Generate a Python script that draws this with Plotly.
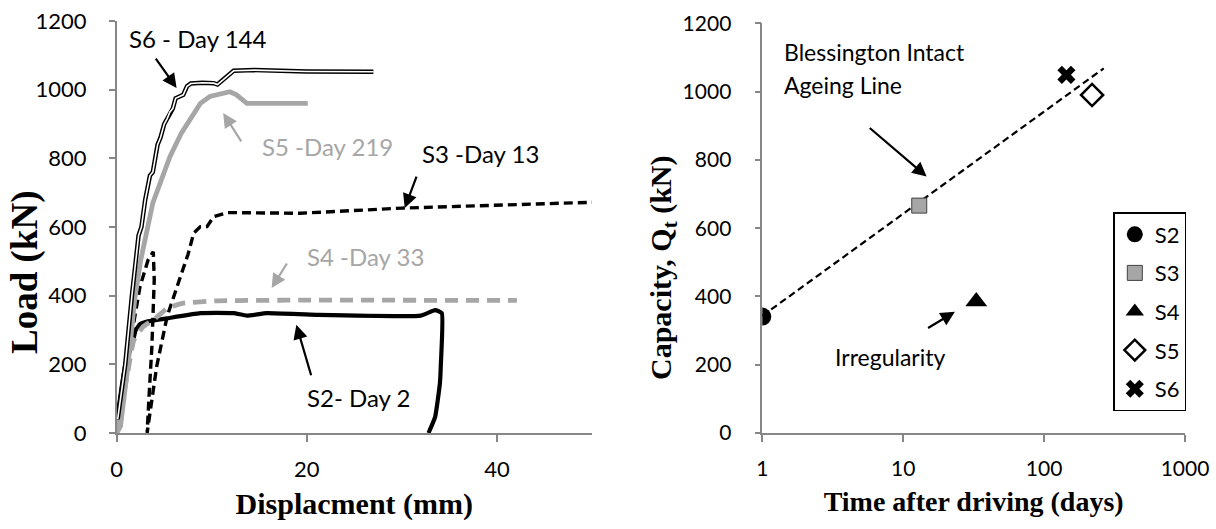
import plotly.graph_objects as go

# ---------------- Left chart data: Load vs displacement ----------------
s2_disp = [0, 0.5, 1.0, 1.6, 2.0, 2.5, 3.1, 5.3, 8.8, 12.3, 13.7, 15.8, 21, 32, 33.5, 34.2, 34.1, 34.0, 33.5, 32.8]
s2_load = [30, 130, 210, 255, 300, 318, 324, 334, 349, 349, 342, 349, 344, 342, 358, 349, 200, 145, 47, 0]

s3_disp = [0, 0.7, 1.6, 2.45, 3.3, 3.85, 3.95, 3.7, 3.4, 3.2, 4.2, 5.3, 6.7, 7.5, 8.1, 8.8, 9.5, 10.2, 11.6, 19.3, 30, 46.3, 50]
s3_load = [0, 106, 290, 426, 504, 528, 446, 251, 106, 0, 193, 339, 455, 520, 582, 601, 601, 630, 642, 640, 655, 669, 672]

s4_disp = [0, 0.5, 1.2, 1.8, 2.8, 3.9, 5.3, 7.0, 10.5, 20, 42.1]
s4_load = [0, 80, 183, 270, 310, 330, 363, 378, 385, 387, 386]

s5_disp = [0, 0.4, 1.2, 1.9, 2.5, 3.2, 3.8, 4.6, 5.6, 6.8, 7.7, 8.8, 9.8, 11.0, 11.9, 12.6, 13.7, 20.1]
s5_load = [0, 20, 200, 390, 500, 600, 670, 730, 805, 873, 912, 960, 980, 990, 994, 985, 960, 960]

s6_disp = [0.1, 0.9, 1.6, 2.3, 2.6, 3.0, 3.5, 3.8, 4.3, 4.6, 5.0, 5.3, 5.6, 5.9, 6.2, 6.6, 7.0, 7.4, 7.8, 9.0, 10.2, 10.6, 12.3, 14.5, 20, 27]
s6_load = [40, 200, 400, 575, 600, 680, 750, 760, 840, 860, 900, 915, 935, 945, 975, 980, 985, 1010, 1018, 1020, 1019, 1015, 1055, 1057, 1053, 1052]

# ---------------- Right chart data: capacity vs time ----------------
pile_names = ["S2", "S3", "S4", "S5", "S6"]
pile_days = [1, 13, 33, 219, 144]
pile_capacity = [341, 666, 385, 990, 1049]

ageing_days = [1, 265]
ageing_capacity = [343, 1068]

left_x_ticks = [0, 20, 40]
y_ticks = [0, 200, 400, 600, 800, 1000, 1200]
right_x_ticks = [1, 10, 100, 1000]

BLACK = "#000000"
GREY = "#a6a6a6"
AXIS = "#868686"
TICKFONT = "Lato"
TITLEFONT = "Liberation Serif"

fig = go.Figure()

# Left chart traces
fig.add_trace(go.Scatter(x=s3_disp, y=s3_load, mode="lines", showlegend=False,
                         line=dict(color=BLACK, width=3.4, dash="9px,5px"), xaxis="x", yaxis="y"))
fig.add_trace(go.Scatter(x=s2_disp, y=s2_load, mode="lines", showlegend=False,
                         line=dict(color=BLACK, width=4.2, shape="spline", smoothing=0.4), xaxis="x", yaxis="y"))
fig.add_trace(go.Scatter(x=s4_disp, y=s4_load, mode="lines", showlegend=False,
                         line=dict(color=GREY, width=4.8, dash="13px,8px", shape="spline", smoothing=0.4), xaxis="x", yaxis="y"))
fig.add_trace(go.Scatter(x=s5_disp, y=s5_load, mode="lines", showlegend=False,
                         line=dict(color=GREY, width=4.8), xaxis="x", yaxis="y"))
fig.add_trace(go.Scatter(x=s6_disp, y=s6_load, mode="lines", showlegend=False,
                         line=dict(color=BLACK, width=4.5), xaxis="x", yaxis="y"))
fig.add_trace(go.Scatter(x=s6_disp, y=s6_load, mode="lines", showlegend=False,
                         line=dict(color="#ffffff", width=1.6), xaxis="x", yaxis="y"))

# Right chart traces
fig.add_trace(go.Scatter(x=ageing_days, y=ageing_capacity, mode="lines", showlegend=False,
                         line=dict(color=BLACK, width=2.2, dash="7px,4px"), xaxis="x2", yaxis="y2"))

marker_styles = [
    dict(symbol="circle", size=18, color=BLACK),
    dict(symbol="square", size=15, color=GREY, line=dict(color="#404040", width=1)),
    dict(symbol="triangle-up", size=19, color=BLACK),
    dict(symbol="diamond", size=17, color="#ffffff", line=dict(color=BLACK, width=2.5)),
    dict(symbol="x", size=16, color=BLACK),
]
for name, d, q, ms in zip(pile_names, pile_days, pile_capacity, marker_styles):
    fig.add_trace(go.Scatter(x=[d], y=[q], mode="markers", name=name, marker=ms,
                             legendgroup=name, xaxis="x2", yaxis="y2"))

axis_common = dict(showgrid=False, zeroline=False, showline=True, linecolor=AXIS, linewidth=1.5,
                   ticks="outside", tickcolor=AXIS, tickwidth=1.5, mirror=False, automargin=False)

fig.update_layout(
    width=1216, height=529,
    margin=dict(l=0, r=0, t=0, b=0, autoexpand=False),
    paper_bgcolor="#ffffff", plot_bgcolor="#ffffff",
    xaxis=dict(domain=[116.7 / 1216, 592 / 1216], range=[0, 50], tickvals=left_x_ticks,
               ticklen=7, ticklabelstandoff=9, anchor="y",
               tickfont=dict(family=TICKFONT, size=22, color=BLACK),
               title=dict(text="<b>Displacment (mm)</b>", standoff=12,
                          font=dict(family=TITLEFONT, size=30, color=BLACK)),
               **axis_common),
    yaxis=dict(domain=[(529 - 433) / 529, (529 - 21) / 529], range=[0, 1200], tickvals=y_ticks,
               ticklen=6, ticklabelstandoff=18, anchor="x",
               tickfont=dict(family=TICKFONT, size=22, color=BLACK), **axis_common),
    xaxis2=dict(domain=[762.3 / 1216, 1185 / 1216], type="log", range=[0, 3], tickvals=right_x_ticks,
                ticktext=[str(v) for v in right_x_ticks],
                ticklen=7, ticklabelstandoff=9, anchor="y2",
                tickfont=dict(family=TICKFONT, size=21, color=BLACK),
                title=dict(text="<b>Time after driving (days)</b>", standoff=12,
                           font=dict(family=TITLEFONT, size=28, color=BLACK)),
                **axis_common),
    yaxis2=dict(domain=[(529 - 433) / 529, (529 - 23.3) / 529], range=[0, 1200], tickvals=y_ticks,
                ticklen=6, ticklabelstandoff=19, anchor="x2",
                tickfont=dict(family=TICKFONT, size=21, color=BLACK), **axis_common),
    legend=dict(x=1113.3 / 1216, y=(529 - 212) / 529, xanchor="left", yanchor="top",
                bordercolor=BLACK, borderwidth=1.5, bgcolor="#ffffff",
                font=dict(family=TICKFONT, size=22, color=BLACK),
                traceorder="grouped", tracegroupgap=7, itemwidth=30),
)

annotations = []
# Axis titles (y) placed to match the reference
annotations.append(dict(text="<b>Load (kN)</b>", xref="paper", yref="paper", x=25 / 1216, y=(529 - 273) / 529,
                        textangle=-90, showarrow=False, xanchor="center", yanchor="middle",
                        font=dict(family=TITLEFONT, size=37, color=BLACK)))
annotations.append(dict(text="<b>Capacity, Q<sub>t</sub> (kN)</b>", xref="paper", yref="paper", x=663 / 1216,
                        y=(529 - 268) / 529, textangle=-90, showarrow=False, xanchor="center", yanchor="middle",
                        font=dict(family=TITLEFONT, size=30, color=BLACK)))

def label(text, x, y, xr, yr, color, size=24):
    annotations.append(dict(text=text, x=x, y=y, xref=xr, yref=yr, showarrow=False, xanchor="left",
                            yanchor="middle", font=dict(family=TICKFONT, size=size, color=color)))

def arrow(hx, hy, tx, ty, xr, yr, color):
    annotations.append(dict(text="", x=hx, y=hy, ax=tx, ay=ty, xref=xr, yref=yr, axref=xr, ayref=yr,
                            showarrow=True, arrowhead=2, arrowsize=1.3, arrowwidth=2.2, arrowcolor=color))

# Left chart labels
label("S6 - Day 144", 1.1, 1150, "x", "y", BLACK)
arrow(6.3, 1005, 4.0, 1095, "x", "y", BLACK)
label("S5 -Day 219", 15.1, 835, "x", "y", GREY)
arrow(11.2, 932, 13.2, 845, "x", "y", GREY)
label("S3 -Day 13", 31.9, 815, "x", "y", BLACK)
arrow(30.3, 655, 31.6, 751, "x", "y", BLACK)
label("S4 -Day 33", 19.8, 513, "x", "y", GREY)
arrow(16.3, 422, 18.0, 498, "x", "y", GREY)
label("S2- Day 2", 19.8, 102, "x", "y", BLACK)
arrow(18.9, 315, 20.5, 164, "x", "y", BLACK)

# Right chart labels (log axis -> x given as log10)
label("Blessington Intact", 0.1376, 1116, "x2", "y2", BLACK, 23)
label("Ageing Line", 0.1376, 1019, "x2", "y2", BLACK, 23)
arrow(1.166, 751, 0.752, 897, "x2", "y2", BLACK)
label("Irregularity", 0.5035, 223, "x2", "y2", BLACK, 23)
arrow(1.367, 355, 1.166, 305, "x2", "y2", BLACK)

fig.update_layout(annotations=annotations)

fig.write_html("out.html")
